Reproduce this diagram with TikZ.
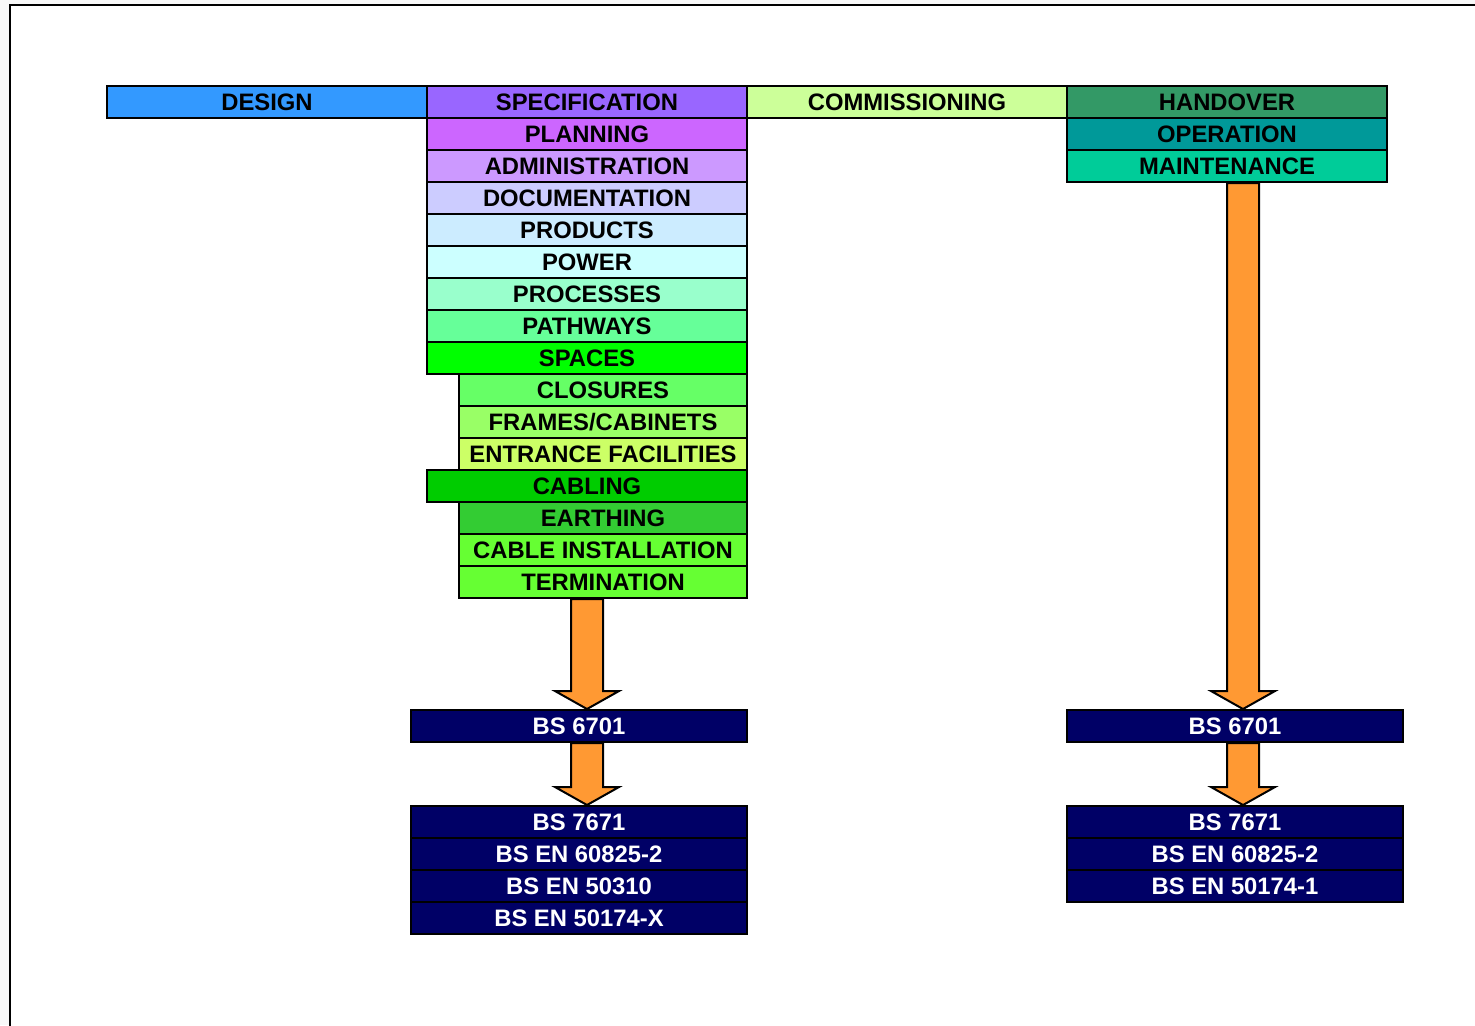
\documentclass[tikz,border=0pt]{standalone}
\usepackage{fontspec}
\setmainfont{Liberation Sans}
\usetikzlibrary{calc}

\definecolor{designblue}{HTML}{3399FF}
\definecolor{specviolet}{HTML}{9966FF}
\definecolor{commgreen}{HTML}{CCFF99}
\definecolor{handgreen}{HTML}{339966}
\definecolor{planviolet}{HTML}{CC66FF}
\definecolor{adminviolet}{HTML}{CC99FF}
\definecolor{docblue}{HTML}{CCCCFF}
\definecolor{prodblue}{HTML}{CCECFF}
\definecolor{powercyan}{HTML}{CCFFFF}
\definecolor{procgreen}{HTML}{99FFCC}
\definecolor{pathgreen}{HTML}{66FF99}
\definecolor{spacegreen}{HTML}{00FF00}
\definecolor{closgreen}{HTML}{66FF66}
\definecolor{framegreen}{HTML}{99FF66}
\definecolor{entrgreen}{HTML}{CCFF66}
\definecolor{cablgreen}{HTML}{00CC00}
\definecolor{earthgreen}{HTML}{33CC33}
\definecolor{instgreen}{HTML}{66FF33}
\definecolor{opteal}{HTML}{009999}
\definecolor{mainteal}{HTML}{00CC99}
\definecolor{stdnavy}{HTML}{000066}
\definecolor{floworange}{HTML}{FF9933}
\definecolor{pagegrey}{HTML}{F8F8F8}

\tikzset{
  stage/.style={draw, line width=1pt, anchor=north west, inner sep=0pt,
    minimum height=16pt, minimum width=160pt,
    font=\fontsize{11.9}{14}\selectfont\bfseries},
  narrow/.style={stage, minimum width=144pt},
  standard/.style={stage, fill=stdnavy, text=white, minimum width=168pt},
  flow/.style={draw, line width=1pt, fill=floworange, line join=miter}
}

% big down arrow from #1 to the tip #2 (same x)
\newcommand{\flowarrow}[2]{%
  \draw[flow] ($(#1)+(-16,0)$) -- ($(#2)+(-16,-18)$) -- ($(#2)+(-32,-18)$) -- (#2)
    -- ($(#2)+(32,-18)$) -- ($(#2)+(16,-18)$) -- ($(#1)+(16,0)$) -- cycle;}

\begin{document}
\begin{tikzpicture}[x=0.5pt, y=-0.5pt]
    \useasboundingbox (0,0) rectangle (1475,1025);
    \fill[pagegrey] (0,0) rectangle (1475,1025);
    \draw[fill=white, line width=1pt] (10,1040) -- (10,5) -- (1490,5);
    \fill[white] (11,6) rectangle (1475,1025);

    % top row
    \node[stage, fill=designblue] (design) at (106,85) {DESIGN};
    \node[stage, fill=specviolet] (spec) at (426,85) {SPECIFICATION};
    \node[stage, fill=commgreen] (comm) at (746,85) {COMMISSIONING};
    \node[stage, fill=handgreen] (hand) at (1066,85) {HANDOVER};

    % specification column
    \node[stage, fill=planviolet] (plan) at (426,117) {PLANNING};
    \node[stage, fill=adminviolet] (admin) at (426,149) {ADMINISTRATION};
    \node[stage, fill=docblue] (doc) at (426,181) {DOCUMENTATION};
    \node[stage, fill=prodblue] (prod) at (426,213) {PRODUCTS};
    \node[stage, fill=powercyan] (power) at (426,245) {POWER};
    \node[stage, fill=procgreen] (proc) at (426,277) {PROCESSES};
    \node[stage, fill=pathgreen] (path) at (426,309) {PATHWAYS};
    \node[stage, fill=spacegreen] (space) at (426,341) {SPACES};
    \node[narrow, fill=closgreen] (clos) at (458,373) {CLOSURES};
    \node[narrow, fill=framegreen] (frame) at (458,405) {FRAMES/CABINETS};
    \node[narrow, fill=entrgreen] (entr) at (458,437) {ENTRANCE FACILITIES};
    \node[stage, fill=cablgreen] (cabl) at (426,469) {CABLING};
    \node[narrow, fill=earthgreen] (earth) at (458,501) {EARTHING};
    \node[narrow, fill=instgreen] (inst) at (458,533) {CABLE INSTALLATION};
    \node[narrow, fill=instgreen] (term) at (458,565) {TERMINATION};

    % handover column
    \node[stage, fill=opteal] (oper) at (1066,117) {OPERATION};
    \node[stage, fill=mainteal] (maint) at (1066,149) {MAINTENANCE};

    % standards, left
    \node[standard] (bsa) at (410,709) {BS 6701};
    \node[standard] (bsb) at (410,805) {BS 7671};
    \node[standard] (bsc) at (410,837) {BS EN 60825-2};
    \node[standard] (bsd) at (410,869) {BS EN 50310};
    \node[standard] (bse) at (410,901) {BS EN 50174-X};

    % standards, right
    \node[standard] (bsf) at (1066,709) {BS 6701};
    \node[standard] (bsg) at (1066,805) {BS 7671};
    \node[standard] (bsh) at (1066,837) {BS EN 60825-2};
    \node[standard] (bsi) at (1066,869) {BS EN 50174-1};

    \coordinate (la) at (spec |- term.south);
    \coordinate (lb) at (spec |- bsa.north);
    \coordinate (lc) at (spec |- bsa.south);
    \coordinate (ld) at (spec |- bsb.north);
    \coordinate (ra) at ($(maint.south)+(16,0)$);
    \coordinate (rb) at (ra |- bsf.north);
    \coordinate (rc) at (ra |- bsf.south);
    \coordinate (rd) at (ra |- bsg.north);

    \flowarrow{la}{lb}
    \flowarrow{lc}{ld}
    \flowarrow{ra}{rb}
    \flowarrow{rc}{rd}
  \end{tikzpicture}
\end{document}
